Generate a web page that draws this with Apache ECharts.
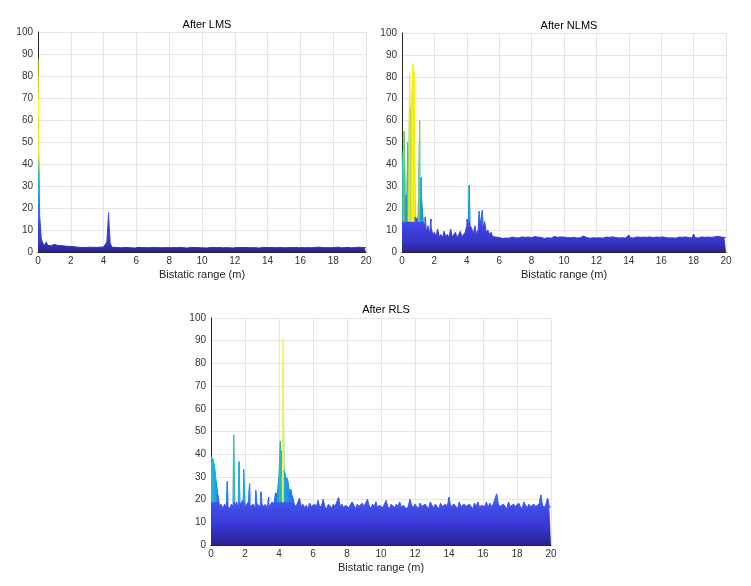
<!DOCTYPE html>
<html><head><meta charset="utf-8">
<script src="https://cdn.jsdelivr.net/npm/echarts@6/dist/echarts.min.js"></script>
<style>html,body{margin:0;padding:0;background:#fff}#c{width:751px;height:586px}</style>
</head><body><div id="c"></div><script>
// Bistatic range grid: 0 .. 20 m, sampled every 0.1 m
const rangeStart = 0;
const rangeStep = 0.1;
const xTicks = [0, 2, 4, 6, 8, 10, 12, 14, 16, 18, 20];
const yTicks = [0, 10, 20, 30, 40, 50, 60, 70, 80, 90, 100];
const titles = ['After LMS', 'After NLMS', 'After RLS'];
const xName = 'Bistatic range (m)';

// background level (envelope) on the 0.1 m grid
const lmsValues = [
  88, 17, 6, 4, 3, 4.5, 3, 3.5, 2.8, 3.2,
  3.5, 2.8, 3, 2.6, 2.9, 2.5, 2.7, 2.4, 2.6, 2.3,
  2.5, 2.2, 2.4, 3, 2.2, 2.3, 2.1, 2.2, 2, 2.2,
  2.1, 2, 2.2, 2, 2.1, 1.9, 2.1, 2, 2.2, 2.1,
  2.3, 2.8, 4.5, 18, 4, 2.2, 2, 2.1, 1.9, 2,
  2.1, 1.9, 2, 2.1, 1.8, 2, 2.1, 1.9, 2, 1.8,
  2, 2.1, 1.9, 2, 1.8, 2, 2.1, 1.9, 2, 2,
  1.9, 2.1, 1.8, 2, 2, 1.9, 2.1, 2, 1.8, 2,
  2, 1.9, 2.1, 2, 1.8, 2, 1.9, 2.1, 2, 1.9,
  2, 1.8, 2, 2.1, 1.9, 2, 1.8, 2, 2.1, 1.9,
  2, 1.9, 2.1, 1.8, 2, 2, 1.9, 2.1, 1.8, 2,
  1.9, 2, 2.1, 1.9, 1.8, 2, 2.1, 1.9, 2, 1.8,
  2, 2.1, 1.9, 2, 1.8, 2, 1.9, 2.1, 2, 1.9,
  1.8, 2, 2.1, 1.9, 2, 1.8, 2, 2.1, 1.9, 2,
  1.9, 2, 1.8, 2.1, 2, 1.9, 2, 2.1, 1.8, 2,
  2, 1.9, 2.1, 2, 1.8, 2, 1.9, 2.1, 2, 1.9,
  2.2, 2, 2.1, 1.9, 2.2, 2, 2.1, 1.9, 2, 2.1,
  2, 2.2, 1.9, 2.1, 2, 1.9, 2.2, 2, 2.1, 1.9,
  2, 2.1, 1.9, 2.2, 2, 1.9, 2.1, 2, 1.9, 2.1,
  2, 1.9, 2.1, 2, 1.9, 2.2, 2, 2.1, 1.9, 2,
  2
];
const lmsPeaks = [];

const nlmsValues = [
  46, 20, 22, 18, 16, 15, 16, 15, 16, 15,
  16, 15, 25, 14, 12, 9, 12, 8, 11, 8,
  9, 7, 10.5, 7, 8, 6.5, 9.5, 7, 8, 6.5,
  10.5, 7, 8, 9, 6.5, 8, 9.5, 7, 8, 9,
  12, 13, 12, 11, 8, 12, 8, 10, 12, 12,
  11, 14, 9, 10, 8, 9, 7, 6.5, 6.8, 6.3,
  6.6, 6.9, 6.2, 6.7, 6.4, 7, 6.3, 6.6, 6.8, 6.2,
  6.5, 7.2, 6.4, 6.6, 6.9, 6.3, 6.7, 6.5, 6.8, 6.4,
  6.6, 6.3, 7, 6.5, 6.8, 6.4, 6.6, 6.9, 6.2, 6.7,
  6.5, 6.8, 6.3, 6.6, 7.1, 6.4, 6.7, 6.5, 6.9, 6.3,
  6.8, 6.4, 6.6, 7, 6.5, 6.3, 6.7, 6.9, 6.4, 6.6,
  6.5, 6.8, 7.3, 6.4, 6.6, 6.9, 6.3, 6.7, 6.5, 6.8,
  6.4, 6.7, 6.5, 6.9, 6.3, 6.6, 6.8, 6.4, 6.7, 6.5,
  6.9, 6.3, 6.6, 6.8, 6.4, 7, 6.5, 6.7, 6.4, 6.6,
  7.8, 6.5, 6.8, 6.4, 6.6, 6.9, 6.3, 6.7, 6.5, 6.8,
  6.4, 6.7, 6.5, 6.9, 6.3, 6.6, 7.4, 6.8, 6.4, 6.7,
  6.5, 6.9, 7.5, 6.6, 6.8, 6.4, 6.7, 6.5, 6.9, 6.3,
  6.6, 6.8, 6.4, 6.7, 6.5, 6.9, 6.3, 6.6, 6.8, 6.4,
  8.2, 6.5, 6.8, 6.4, 6.6, 6.9, 6.3, 6.7, 6.5, 6.8,
  6.4, 6.7, 6.5, 6.9, 6.3, 7.2, 6.6, 6.8, 6.4, 6.7,
  6.5
];
// sharp peaks [range (m), height]
const nlmsPeaks = [
  [0.14, 55], [0.25, 26], [0.35, 50], [0.47, 81], [0.52, 66], [0.60, 72], [0.68, 86],
  [0.72, 70], [0.76, 82], [1.09, 60], [1.17, 34], [1.44, 16], [1.79, 15],
  [4.02, 15], [4.15, 30.5], [4.77, 18.6], [4.96, 19]
];

const rlsValues = [
  39, 38, 35, 28, 22, 17, 18, 16, 18, 17,
  17, 16, 18, 17, 17, 19, 16, 18, 18, 20,
  17, 17, 19, 17, 17, 18, 16, 18, 18, 17,
  18, 17, 18, 16, 17, 17, 19, 18, 23, 22,
  30, 40, 42, 33, 30, 29, 24, 24.5, 21, 18,
  17, 16.5, 20.5, 17, 18, 16.5, 17.5, 16, 18.5, 17,
  16.5, 18, 17, 19.5, 16.5, 17.5, 20, 17, 16, 18,
  17.5, 16.5, 18, 17, 16.5, 21, 17, 18, 16.5, 17.5,
  18, 16.5, 17, 19, 17.5, 16, 18, 17, 16.5, 18.5,
  17, 16.5, 20, 17.5, 16, 18, 17, 19, 16.5, 17.5,
  18, 16.5, 17, 19.5, 17, 16, 18, 17.5, 16.5, 18,
  17, 19, 16.5, 17.5, 18, 16, 17, 20, 17.5, 16.5,
  18, 17, 16, 18.5, 17, 16.5, 18, 17, 16, 19,
  17.5, 16.5, 18, 17, 16, 18.5, 17, 16.5, 18, 17,
  21, 17, 16.5, 18, 17.5, 16, 19, 17, 16.5, 18,
  17, 16.5, 18, 17.5, 16, 18.5, 17, 19, 16.5, 17.5,
  18, 17, 19, 16.5, 18.5, 17, 18, 17.5, 22.5, 18,
  17, 16.5, 18, 17.5, 16, 19, 17, 16.5, 18, 17,
  16.5, 18.5, 17, 16, 19, 17.5, 16.5, 18, 17, 16.5,
  18, 17, 16.5, 18, 22, 17.5, 16.5, 18, 20.5, 17,
  16.5
];
const rlsPeaks = [
  [0.96, 28], [1.33, 48.5], [1.65, 36.7], [1.92, 33.3], [2.27, 27], [2.63, 24],
  [2.94, 23.4], [3.39, 21], [4.08, 45.8], [4.22, 90.5]
];

// colour ramps (height -> colour), one entry per 5 units from 0 to 100
const lmsColors = ['#2a2290','#3838c8','#3c44d8','#3d56e0','#2f78e8','#1a9ee0','#16b2cf','#30bca8','#90cc50','#e6e82a',
  '#f6f41c','#f6f41c','#f6f41c','#f6f41c','#f6f41c','#f6f41c','#f6f41c','#f6f41c','#f6f41c','#f6f41c','#f6f41c'];
const nlmsColors = ['#2a2290','#3636c8','#3c40dc','#3c56e6','#2c78ee','#1c92ea','#14a4e0','#12b2d4','#1cbac0','#2ebca8',
  '#4ac090','#6cc478','#98cc58','#c0d444','#dcdc34','#eee428','#f6ec20','#f8f41a','#f8f41a','#f8f41a','#f8f41a'];
const rlsColors = ['#2a2090','#3030b8','#3a3ad8','#4048e4','#3c5ee8','#2c7eee','#1a9ee6','#16b2dc','#1ebcc8','#2cb8a8',
  '#50c090','#78c478','#a0cc60','#c4d450','#dcdc48','#ece450','#f2ea58','#f4ee60','#f6f068','#f6f068','#f6f068'];

const FONT = 'Liberation Sans, Arial, Helvetica, sans-serif';
const xAt = i => Math.round((rangeStart + i * rangeStep) * 10) / 10;
function mergedPairs(vals, peaks) {
  const pts = vals.map((v, i) => [xAt(i), v]).concat(peaks.map(p => [p[0], p[1]]));
  pts.sort((a, b) => a[0] - b[0]);
  return pts;
}
const toSegments = pts => pts.slice(0, -1).map((p, i) => [p[0], p[1], pts[i + 1][0], pts[i + 1][1]]);

const grids = [
  {left: 38, top: 32, width: 328, height: 220},
  {left: 402, top: 33, width: 324, height: 219},
  {left: 211, top: 318, width: 340, height: 227}
];
const allPairs = [mergedPairs(lmsValues, lmsPeaks), mergedPairs(nlmsValues, nlmsPeaks), mergedPairs(rlsValues, rlsPeaks)];
const allColors = [lmsColors, nlmsColors, rlsColors];
// spike overlay: edges above this level are drawn with the flat colour of their highest vertex
const spikeLevels = [null, 14, 19];

function spikeRenderer(level, colors) {
  return function (params, api) {
    const x0 = api.value(0), y0 = api.value(1), x1 = api.value(2), y1 = api.value(3);
    const m = Math.max(y0, y1);
    if (m <= level) return null;
    const P = (x, y) => api.coord([x, y]);
    let pts;
    if (y0 > level && y1 > level) {
      pts = [P(x0, level), P(x0, y0), P(x1, y1), P(x1, level)];
    } else if (y0 > level) {
      const xc = x0 + (x1 - x0) * (y0 - level) / (y0 - y1);
      pts = [P(x0, level), P(x0, y0), P(xc, level)];
    } else {
      const xc = x0 + (x1 - x0) * (level - y0) / (y1 - y0);
      pts = [P(xc, level), P(x1, y1), P(x1, level)];
    }
    const col = echarts.color.lerp(Math.min(m, 100) / 100, colors);
    return {type: 'polygon', shape: {points: pts}, style: {fill: col, stroke: col, lineWidth: 0.7}};
  };
}

const series = allPairs.map((pts, i) => ({
  type: 'line', xAxisIndex: i, yAxisIndex: i, data: pts,
  showSymbol: false, symbol: 'none', smooth: false,
  lineStyle: {width: 1}, areaStyle: {opacity: 1}, z: 2
}));
allPairs.forEach((pts, i) => {
  if (spikeLevels[i] == null) return;
  series.push({
    type: 'custom', xAxisIndex: i, yAxisIndex: i, data: toSegments(pts),
    renderItem: spikeRenderer(spikeLevels[i], allColors[i]), clip: true, z: 3,
    encode: {x: [0, 2], y: [1, 3]}
  });
});

const option = {
  animation: false,
  backgroundColor: '#fff',
  textStyle: {fontFamily: FONT},
  title: grids.map((g, i) => ({
    text: titles[i], left: g.left + g.width / 2, top: g.top - 18 - (i === 2 ? 1 : 0), textAlign: 'center',
    textStyle: {fontSize: 11, fontWeight: 'normal', color: '#000', fontFamily: FONT}
  })),
  grid: grids,
  xAxis: grids.map((g, i) => ({
    type: 'value', gridIndex: i, min: xTicks[0], max: xTicks[xTicks.length - 1], interval: xTicks[1] - xTicks[0],
    name: xName, nameLocation: 'middle', nameGap: 17,
    nameTextStyle: {fontSize: 11, color: '#262626', fontFamily: FONT},
    axisLabel: {fontSize: 10, color: '#333', margin: 4, fontFamily: FONT},
    axisLine: {show: true, onZero: false, lineStyle: {color: '#262626', width: 1}},
    axisTick: {show: false},
    splitLine: {show: true, lineStyle: {color: '#e6e6e6', width: 1}}
  })),
  yAxis: grids.map((g, i) => ({
    type: 'value', gridIndex: i, min: yTicks[0], max: yTicks[yTicks.length - 1], interval: yTicks[1] - yTicks[0],
    axisLabel: {fontSize: 10, color: '#333', margin: 5, fontFamily: FONT},
    axisLine: {show: true, lineStyle: {color: '#262626', width: 1}},
    axisTick: {show: false},
    splitLine: {show: true, lineStyle: {color: '#e6e6e6', width: 1}}
  })),
  visualMap: allColors.map((cols, i) => ({
    type: 'continuous', show: false, seriesIndex: i, dimension: 1,
    min: 0, max: 100, inRange: {color: cols}
  })),
  series: series
};
const chart = echarts.init(document.getElementById('c'), null, {renderer: 'canvas'});
chart.setOption(option);
</script></body></html>
